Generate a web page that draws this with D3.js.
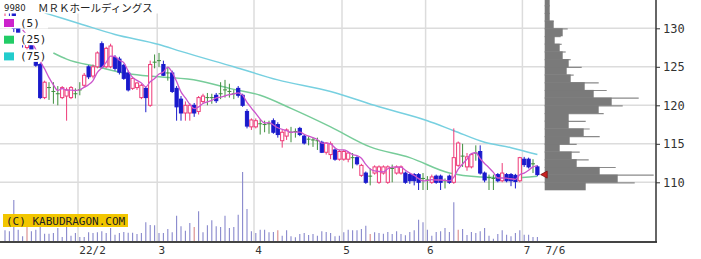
<!DOCTYPE html>
<html>
<head>
  <meta charset="utf-8">
  <title>9980 MRK</title>
  <style>
    body { margin: 0; background: #fff; }
    svg { display: block; }
  </style>
</head>
<body>
  <script src="https://d3js.org/d3.v7.min.js"></script>
  <script>
    const width = 701;
    const height = 259;

    // daily candles [open, high, low, close], 2022/1/6 .. 2022/7/6
    const ohlc = [
      [131.0,132.0,130.0,131.5],[131.5,132.5,130.5,131.0],[132.0,132.5,129.5,130.0],[130.0,130.5,128.0,128.5],
      [128.5,129.0,127.5,128.0],[127.5,128.5,126.5,128.0],[128.0,128.5,126.0,126.5],[125.8,126.0,125.0,125.2],
      [125.3,125.5,120.8,121.0],[121.0,123.2,120.8,123.0],[122.3,123.0,120.7,122.3],[121.8,123.0,120.2,121.8],
      [121.5,122.5,120.0,121.5],[121.0,122.5,120.8,122.3],[121.2,122.3,118.0,122.0],[121.0,122.5,120.8,122.3],
      [121.5,122.2,120.9,121.5],[122.0,123.0,121.3,122.0],[122.6,124.2,122.3,123.9],[125.0,125.2,123.4,123.7],
      [123.8,125.3,123.5,125.0],[125.0,127.0,124.8,126.8],[128.0,128.3,124.8,125.0],[125.0,127.6,124.8,127.4],
      [125.0,128.0,124.8,127.7],[126.2,126.5,124.5,124.8],[126.0,126.3,124.0,124.3],[125.2,125.4,123.3,123.5],
      [124.2,124.5,121.8,122.0],[122.2,123.7,122.0,123.5],[122.3,123.0,122.0,122.9],[121.0,122.8,120.8,122.6],
      [122.2,122.4,119.1,121.0],[120.0,125.8,119.8,125.3],[125.6,126.6,124.8,125.6],[125.8,126.8,125.0,125.8],
      [125.3,125.8,123.8,123.9],[124.2,125.0,123.2,124.2],[124.2,124.5,121.6,121.8],[122.2,122.5,118.0,119.8],
      [120.8,121.2,118.0,119.0],[119.0,120.5,118.0,120.0],[119.0,120.3,118.0,120.0],[120.0,120.3,118.5,119.0],
      [119.2,121.2,118.8,121.0],[120.5,121.5,120.2,121.2],[121.0,121.6,120.0,121.0],[121.0,121.5,120.2,121.0],
      [121.3,121.6,120.3,120.6],[121.5,123.0,120.8,121.5],[122.0,123.3,121.0,122.0],[121.8,122.8,121.0,121.8],
      [121.5,122.0,120.8,121.5],[122.2,122.5,121.0,121.3],[121.3,121.5,119.8,120.0],[119.2,119.5,117.0,117.3],
      [117.2,118.3,116.8,118.1],[117.2,118.3,117.0,118.0],[117.6,118.2,116.2,117.6],[117.5,118.0,116.5,117.5],
      [117.6,118.0,116.3,117.6],[118.0,118.3,116.3,116.5],[117.5,117.8,115.8,116.2],[115.4,116.8,114.5,116.5],
      [116.0,117.0,115.5,116.8],[116.5,117.2,115.2,116.5],[116.6,117.0,115.8,116.6],[117.0,117.2,116.0,116.2],
      [116.0,116.2,114.9,115.1],[115.6,116.0,114.8,115.6],[115.5,115.8,114.6,115.5],[115.4,115.8,114.2,115.4],
      [115.2,115.4,113.8,113.9],[113.9,115.2,113.6,115.1],[113.6,115.3,113.0,115.0],[114.2,114.4,112.8,113.0],
      [113.0,114.2,112.8,114.0],[113.0,114.2,112.8,114.0],[113.0,114.0,112.6,113.8],[113.2,113.8,111.8,113.2],
      [113.2,113.4,112.2,112.4],[110.9,112.4,110.7,112.2],[111.2,111.4,109.8,110.0],[110.8,111.8,109.6,110.8],
      [111.2,112.2,111.0,112.0],[110.0,112.2,109.8,112.0],[111.2,112.2,111.0,112.0],[110.0,112.2,109.8,112.0],
      [111.8,112.3,110.0,111.8],[111.2,112.2,111.0,112.0],[111.2,112.2,111.0,112.0],[111.2,111.4,109.8,110.0],
      [111.0,111.2,109.8,110.2],[111.0,111.2,109.6,110.2],[111.0,111.2,109.0,110.0],[110.5,111.2,109.0,110.5],
      [110.3,110.8,109.0,110.3],[110.0,111.0,109.8,110.7],[110.8,111.0,109.8,110.0],[110.8,111.0,109.0,110.0],
      [110.2,110.5,109.2,110.2],[110.8,111.0,109.8,110.0],[110.0,117.0,109.8,113.2],[112.2,115.3,112.0,115.1],
      [113.4,115.0,112.0,113.4],[112.0,113.8,111.5,113.3],[112.0,113.8,111.8,113.6],[113.8,114.8,112.8,113.8],
      [114.0,114.8,111.0,111.2],[111.2,111.4,110.0,110.3],[110.6,111.0,109.0,110.6],[110.5,111.0,109.0,110.5],
      [111.0,111.2,110.0,110.2],[110.2,112.5,110.0,111.2],[111.0,111.2,110.0,110.2],[111.0,111.2,109.5,110.2],
      [110.9,111.1,109.2,110.1],[110.2,113.3,110.0,113.2],[113.0,113.3,112.0,112.3],[113.0,113.2,111.8,112.0],
      [112.4,113.0,111.2,112.4],[112.0,112.2,110.8,111.0]
    ];

    // daily volume (thousand shares)
    const volumes = [
      117,107,420,123,57,150,107,123,150,83,83,90,140,50,157,63,90,50,50,97,
      90,97,107,90,140,73,90,100,93,93,80,90,197,170,167,90,90,130,97,263,
      157,113,190,150,307,97,167,217,157,150,263,140,150,273,700,330,107,90,123,123,
      97,100,117,63,117,57,47,80,90,70,80,63,107,100,90,57,63,97,123,117,
      117,130,163,80,97,90,83,100,80,107,80,67,100,117,223,197,123,63,100,107,
      140,100,397,123,130,70,100,90,107,140,63,33,80,117,73,57,90,117,73,73,
      50,50
    ];
    const redVolumeDays = [5, 43, 62, 83, 103];

    const monthLabels = ['22/2', '3', '4', '5', '6', '7'];
    const monthStartDay = [17, 35, 57, 77, 96, 118];
    const lastDateLabel = '7/6';

    // moving averages: [day index, price]
    const ma25Points = [
      [11,126.8],[14,126.0],[21,125.0],[28,124.1],[35,123.7],[44,123.2],[51,122.2],[58,121.3],
      [65,119.6],[74,117.2],[83,114.6],[92,113.2],[101,111.2],[108,110.7],[115,110.6],[121,110.8]
    ];
    const ma75Points = [
      [9,132.0],[17,130.6],[25,129.2],[35,127.9],[40,127.0],[52,125.0],[62,123.3],[74,121.8],
      [85,119.8],[96,118.0],[102,116.7],[109,115.2],[115,114.5],[121,113.6]
    ];

    // price-by-volume profile, 1 yen bins
    const profileLevels = [109,110,111,112,113,114,115,116,117,118,119,120,121,122,123,124,125,126,127,128,129,130,131,132,133];
    const profileMain   = [41,73,55,32,27,15,25,39,24,24,54,67,49,40,26,22,24,18,15,10,18,9,5,5,5];
    const profileThin   = [90,109,71,44,35,32,55,45,41,59,78,94,62,54,29,37,26,21,17,16,23,9,5,5,5];

    const priceTicks = [110, 115, 120, 125, 130];

    const plotRight = 656;
    const baseY = 242;
    const profileX0 = 544.7;

    const x = d3.scaleLinear().domain([0, 121]).range([5, 537.4]);
    const y = d3.scaleLinear().domain([110, 130]).range([182.3, 28.3]);
    const yVol = d3.scaleLinear().domain([0, 700]).range([baseY, baseY - 70]);
    const xProf = d3.scaleLinear().domain([0, 100]).range([profileX0, profileX0 + 100]);

    const svg = d3.select('body')
      .append('svg')
      .attr('width', width)
      .attr('height', height);

    // grid
    svg.append('g')
      .selectAll('line')
      .data(priceTicks)
      .join('line')
      .attr('x1', 0)
      .attr('x2', plotRight)
      .attr('y1', (d) => y(d))
      .attr('y2', (d) => y(d))
      .attr('stroke', '#dcdcdc')
      .attr('stroke-width', 1.5);

    svg.append('g')
      .selectAll('line')
      .data(monthStartDay)
      .join('line')
      .attr('x1', (d) => x(d) - 1.8)
      .attr('x2', (d) => x(d) - 1.8)
      .attr('y1', 0)
      .attr('y2', baseY)
      .attr('stroke', '#dcdcdc')
      .attr('stroke-width', 1.5);

    // volume profile: thin lines under the solid bars
    const prof = svg.append('g');
    prof.append('g')
      .selectAll('line')
      .data(profileLevels)
      .join('line')
      .attr('x1', profileX0)
      .attr('x2', (d, i) => xProf(profileThin[i]))
      .attr('y1', (d) => y(d + 1) + 0.6)
      .attr('y2', (d) => y(d + 1) + 0.6)
      .attr('stroke', '#8a8a8a')
      .attr('stroke-width', 1.2);
    prof.append('g')
      .selectAll('rect')
      .data(profileLevels)
      .join('rect')
      .attr('x', profileX0)
      .attr('y', (d) => y(d + 1))
      .attr('width', (d, i) => xProf(profileMain[i]) - profileX0)
      .attr('height', (d) => y(d) - y(d + 1) + 0.3)
      .attr('fill', '#7a7a7a');
    prof.append('rect')
      .attr('x', profileX0)
      .attr('y', 0)
      .attr('width', xProf(5) - profileX0)
      .attr('height', y(134))
      .attr('fill', '#7a7a7a');

    // volume bars
    svg.append('g')
      .selectAll('line')
      .data(volumes)
      .join('line')
      .attr('x1', (d, i) => x(i))
      .attr('x2', (d, i) => x(i))
      .attr('y1', baseY)
      .attr('y2', (d) => yVol(d))
      .attr('stroke', (d, i) => redVolumeDays.includes(i) ? '#d88888' : '#8888cc')
      .attr('stroke-width', 1.1);

    // moving averages 25 / 75
    const line = d3.line()
      .x((d) => x(d[0]))
      .y((d) => y(d[1]))
      .curve(d3.curveMonotoneX);

    svg.append('path')
      .attr('d', line(ma75Points))
      .attr('fill', 'none')
      .attr('stroke', '#77d0e0')
      .attr('stroke-width', 1.5);

    svg.append('path')
      .attr('d', line(ma25Points))
      .attr('fill', 'none')
      .attr('stroke', '#77cc99')
      .attr('stroke-width', 1.5);

    // candles
    const candle = svg.append('g')
      .selectAll('g')
      .data(ohlc)
      .join('g');

    const colorOf = (d) => d[3] > d[0] ? '#ee3a78' : (d[3] < d[0] ? '#1a1acc' : '#3d8f3d');

    candle.append('line')
      .attr('x1', (d, i) => x(i))
      .attr('x2', (d, i) => x(i))
      .attr('y1', (d) => y(d[1]))
      .attr('y2', (d) => y(d[2]))
      .attr('stroke', colorOf)
      .attr('stroke-width', 1);

    candle.filter((d) => d[3] !== d[0])
      .append('rect')
      .attr('x', (d) => x(ohlc.indexOf(d)) - 1.6)
      .attr('y', (d) => y(Math.max(d[0], d[3])))
      .attr('width', 3.2)
      .attr('height', (d) => Math.max(1, Math.abs(y(d[0]) - y(d[3]))))
      .attr('fill', (d) => d[3] > d[0] ? '#fff' : '#1a1acc')
      .attr('stroke', colorOf)
      .attr('stroke-width', 1);

    candle.filter((d) => d[3] === d[0])
      .append('line')
      .attr('x1', (d) => x(ohlc.indexOf(d)) - 2)
      .attr('x2', (d) => x(ohlc.indexOf(d)) + 2)
      .attr('y1', (d) => y(d[0]))
      .attr('y2', (d) => y(d[0]))
      .attr('stroke', '#3d8f3d')
      .attr('stroke-width', 1);

    // 5 day moving average from closes
    const closes = ohlc.map((d) => d[3]);
    const ma5Points = d3.range(4, closes.length).map((i) => [i, d3.mean(closes.slice(i - 4, i + 1))]);
    svg.append('path')
      .attr('d', line(ma5Points))
      .attr('fill', 'none')
      .attr('stroke', '#cc55cc')
      .attr('stroke-width', 1.3);

    // last price marker
    const lastY = y(closes[closes.length - 1]);
    svg.append('path')
      .attr('d', `M${profileX0 - 4},${lastY} L${profileX0 + 2.5},${lastY - 3.5} L${profileX0 + 2.5},${lastY + 3.5} Z`)
      .attr('fill', '#cc2222')
      .attr('stroke', '#7a1010')
      .attr('stroke-width', 0.8);

    // axes
    svg.append('line')
      .attr('x1', 0).attr('x2', plotRight + 1)
      .attr('y1', baseY).attr('y2', baseY)
      .attr('stroke', '#444')
      .attr('stroke-width', 2);
    svg.append('line')
      .attr('x1', plotRight).attr('x2', plotRight)
      .attr('y1', 0).attr('y2', baseY)
      .attr('stroke', '#333')
      .attr('stroke-width', 1.5);

    const yAxis = svg.append('g')
      .attr('transform', `translate(${plotRight},0)`)
      .call(d3.axisRight(y).tickValues(priceTicks).tickSize(4).tickPadding(3));
    yAxis.select('.domain').remove();
    yAxis.selectAll('line').attr('stroke', '#333');
    yAxis.selectAll('text')
      .attr('font-family', 'DejaVu Sans Mono')
      .attr('font-size', 12)
      .attr('fill', '#333');

    svg.append('g')
      .selectAll('text')
      .data(monthLabels)
      .join('text')
      .attr('x', (d, i) => x(monthStartDay[i]) - 0.5)
      .attr('y', 254)
      .attr('font-family', 'DejaVu Sans Mono')
      .attr('font-size', 11)
      .attr('fill', '#333')
      .text((d) => d);

    svg.append('text')
      .attr('x', x(121) + 8)
      .attr('y', 254)
      .attr('font-family', 'DejaVu Sans Mono')
      .attr('font-size', 11)
      .attr('fill', '#333')
      .text(lastDateLabel);

    // copyright
    svg.append('rect')
      .attr('x', 3).attr('y', 214)
      .attr('width', 125).attr('height', 13)
      .attr('fill', '#f2c600');
    svg.append('text')
      .attr('x', 6).attr('y', 224.5)
      .attr('font-family', 'DejaVu Sans Mono')
      .attr('font-size', 11)
      .attr('fill', '#222')
      .text('(C) KABUDRAGON.COM');

    // title and legend
    const legend = svg.append('g');
    legend.append('rect').attr('x', 0).attr('y', 0).attr('width', 170).attr('height', 13.5).attr('fill', '#fff');
    legend.append('text')
      .attr('x', 4).attr('y', 11)
      .attr('font-family', 'DejaVu Sans')
      .attr('font-size', 8.5)
      .attr('fill', '#222')
      .text('9980');
    legend.append('text')
      .attr('x', 38).attr('y', 12)
      .attr('font-family', 'Noto Sans CJK JP')
      .attr('font-size', 10.5)
      .attr('fill', '#222')
      .text('ＭＲＫホールディングス');

    const legendItems = ['(5)', '(25)', '(75)'];
    const legendColors = ['#cc22cc', '#22cc66', '#22cccc'];
    legendItems.forEach((t, i) => {
      const top = 17 + i * 16.7;
      legend.append('rect').attr('x', 0).attr('y', top - 1).attr('width', 48).attr('height', 12.5).attr('fill', '#fff');
      legend.append('rect').attr('x', 4).attr('y', top + 2).attr('width', 10).attr('height', 8).attr('fill', legendColors[i]);
      legend.append('text')
        .attr('x', 20).attr('y', top + 9.5)
        .attr('font-family', 'DejaVu Sans Mono')
        .attr('font-size', 11)
        .attr('fill', '#222')
        .text(t);
    });
  </script>
</body>
</html>
